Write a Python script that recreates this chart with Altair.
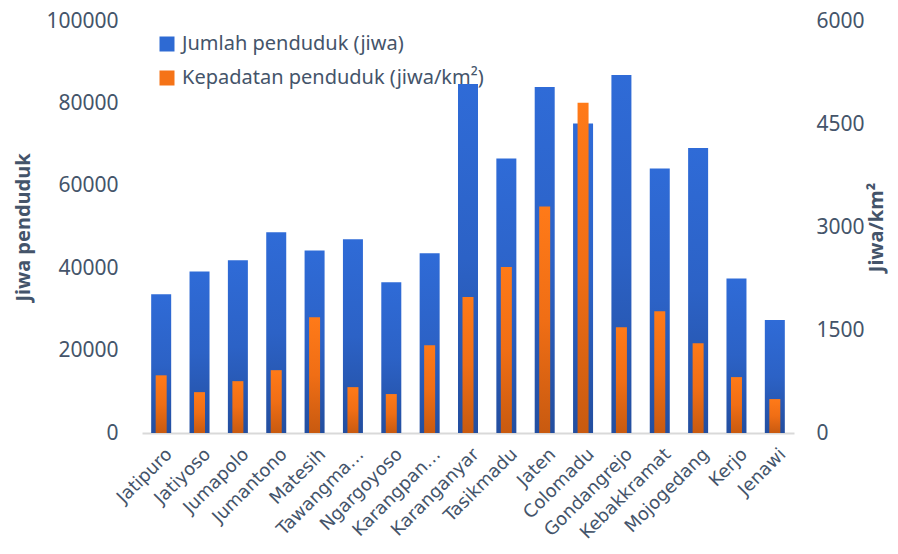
import altair as alt
import pandas as pd

kecamatan = ["Jatipuro", "Jatiyoso", "Jumapolo", "Jumantono", "Matesih", "Tawangma…",
             "Ngargoyoso", "Karangpan…", "Karanganyar", "Tasikmadu", "Jaten", "Colomadu",
             "Gondangrejo", "Kebakkramat", "Mojogedang", "Kerjo", "Jenawi"]
jumlah = [33700, 39200, 41900, 48700, 44300, 47000, 36600, 43600, 84700, 66600,
          84000, 75100, 86900, 64200, 69200, 37500, 27400]
kepadatan = [840, 595, 755, 915, 1685, 668, 567, 1278, 1980, 2416, 3298, 4809,
             1540, 1772, 1308, 814, 494]
series = ["Jumlah penduduk (jiwa)", "Kepadatan penduduk (jiwa/km²)"]
series_colors = ["#2E6AD3", "#F57317"]
left_ticks = [0, 20000, 40000, 60000, 80000, 100000]
right_ticks = [0, 1500, 3000, 4500, 6000]

df = pd.DataFrame({"kecamatan": kecamatan, "jumlah": jumlah, "kepadatan": kepadatan})
legend_df = pd.DataFrame({"series": series})

TXT = "#44546A"
FONT = "Noto Sans"

blue_grad = alt.Gradient(gradient="linear", x1=0, x2=0, y1=0, y2=1,
                         stops=[alt.GradientStop(color="#2F6BD7", offset=0),
                                alt.GradientStop(color="#2C62C6", offset=0.5),
                                alt.GradientStop(color="#234E9F", offset=1)])
orange_grad = alt.Gradient(gradient="linear", x1=0, x2=0, y1=0, y2=1,
                           stops=[alt.GradientStop(color="#FF7A18", offset=0),
                                  alt.GradientStop(color="#F06E15", offset=0.5),
                                  alt.GradientStop(color="#C85A10", offset=1)])

x_enc = alt.X("kecamatan:N", sort=kecamatan,
              scale=alt.Scale(paddingInner=0.5, paddingOuter=0.25),
              axis=alt.Axis(title=None, labelAngle=-45, labelAlign="right",
                            labelBaseline="top", labelFont="DejaVu Sans", labelFontSize=18,
                            labelColor=TXT, labelPadding=12, labelOffset=2, ticks=False,
                            domainColor="#D9D9D9", domainWidth=2, labelLimit=200))

blue = alt.Chart(df).mark_bar(size=20, color=blue_grad).encode(
    x=x_enc,
    y=alt.Y("jumlah:Q", scale=alt.Scale(domain=[0, 100000]),
            axis=alt.Axis(orient="left", values=left_ticks, format="d",
                          title="Jiwa penduduk", grid=False, domain=False, ticks=False,
                          labelFont=FONT, labelFontSize=21, labelColor=TXT, labelPadding=24,
                          titleFont=FONT, titleFontSize=20, titleFontWeight="bold",
                          titleColor=TXT, titlePadding=12))
)

orange = alt.Chart(df).mark_bar(size=11, color=orange_grad).encode(
    x=x_enc,
    y=alt.Y("kepadatan:Q", scale=alt.Scale(domain=[0, 6000]),
            axis=alt.Axis(orient="right", values=right_ticks, format="d",
                          title="Jiwa/km²", grid=False, domain=False, ticks=False,
                          labelFont=FONT, labelFontSize=21, labelColor=TXT, labelPadding=22,
                          titleFont=FONT, titleFontSize=20, titleFontWeight="bold",
                          titleColor=TXT, titlePadding=2, titleAngle=270,
                          titleBaseline="top"))
)

legend_layer = alt.Chart(legend_df).mark_square(opacity=0).encode(
    color=alt.Color("series:N", sort=series,
                    scale=alt.Scale(domain=series, range=series_colors),
                    legend=alt.Legend(title=None, orient="none", legendX=15, legendY=13,
                                      symbolType="square", symbolSize=225,
                                      symbolOpacity=1, symbolStrokeWidth=0,
                                      labelFont=FONT, labelFontSize=20, labelColor=TXT,
                                      labelOffset=5, rowPadding=14, padding=0,
                                      labelLimit=400))
)

chart = alt.layer(blue, orange, legend_layer).resolve_scale(
    y="independent"
).properties(
    width=652, height=412,
    autosize=alt.AutoSizeParams(type="none"),
    padding={"left": 134, "top": 13, "right": 96, "bottom": 113},
    background="white"
).configure_view(stroke=None)

chart.save("out.html", embed_options={"renderer": "svg", "actions": False})
